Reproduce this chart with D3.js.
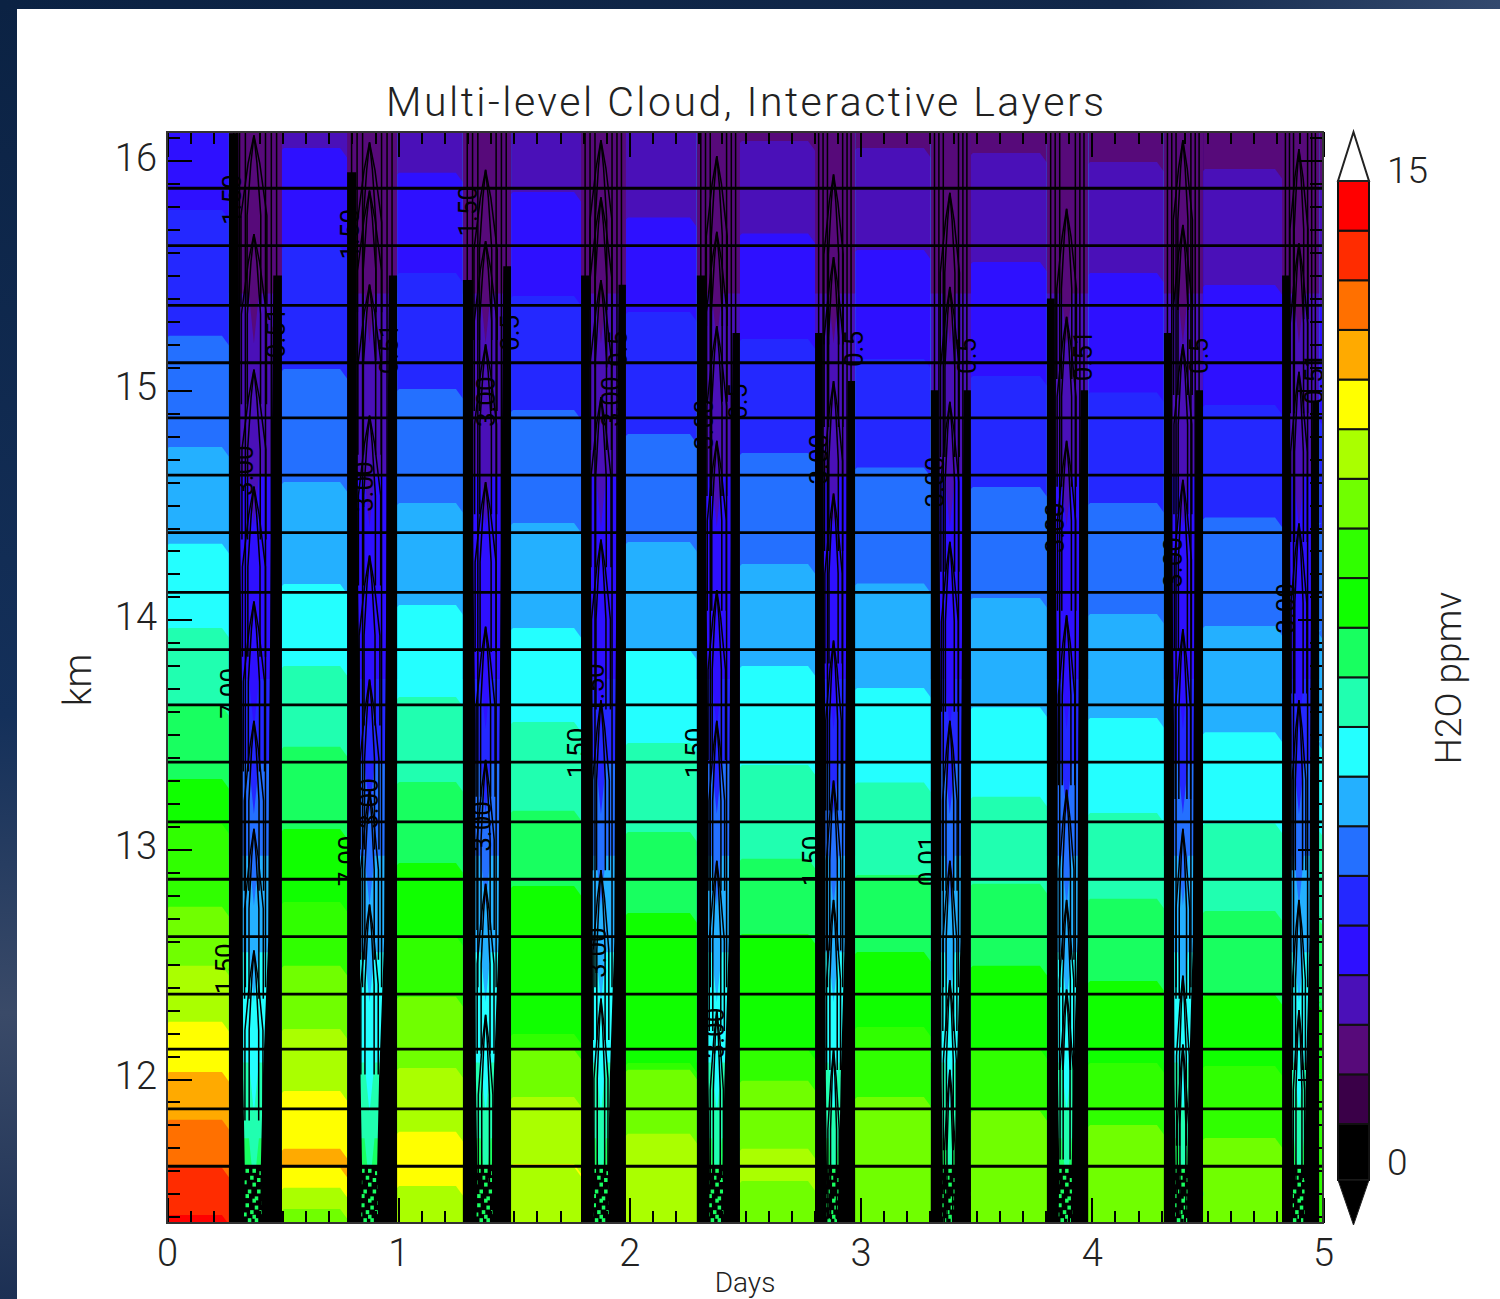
<!DOCTYPE html>
<html>
<head>
<meta charset="utf-8">
<title>Multi-level Cloud, Interactive Layers</title>
<script src="https://cdn.jsdelivr.net/npm/d3@7"></script>
<style>
html, body { margin: 0; padding: 0; background: #fff; overflow: hidden; }
svg { display: block; }
text { font-family: "Roboto", "Liberation Sans", sans-serif; font-weight: 300; fill: #222; }
.axis path { display: none; }
.axis line { stroke: #000; stroke-width: 2; shape-rendering: crispEdges; }
.axis text { font-size: 38px; }
</style>
</head>
<body>
<div id="chart"></div>
<script>
// Data
// =========================
var titleText = "Multi-level Cloud, Interactive Layers";
var dayTicks = [0, 1, 2, 3, 4, 5];
var kmTicks = [12, 13, 14, 15, 16];

// colour levels, bottom of the colour bar first
var levelColors = ["#000000", "#3a0048", "#570a7a", "#4a10b8", "#2e10ff", "#2428ff", "#2470ff",
    "#24b0ff", "#24ffff", "#20ffb0", "#18ff60", "#10ff00", "#30ff00", "#70ff00", "#aaff00",
    "#ffff00", "#ffaa00", "#ff7000", "#ff2c00", "#ff0000"];

// clear air between the cloud columns: level of each band top to bottom, and the km where it ends
var gapLevels = [
    [4, 5, 6, 7, 8, 9, 10, 11, 12, 13, 14, 15, 16, 17, 18, 19],
    [3, 4, 5, 6, 7, 8, 9, 10, 11, 12, 13, 14, 15, 16, 15, 14, 13],
    [3, 4, 5, 6, 7, 8, 9, 10, 11, 12, 13, 14, 15, 14],
    [3, 4, 5, 6, 7, 8, 9, 10, 11, 12, 13, 14, 15, 14],
    [3, 4, 5, 6, 7, 8, 9, 10, 11, 12, 13, 14],
    [2, 3, 4, 5, 6, 7, 8, 9, 10, 11, 12, 13, 14, 13],
    [2, 3, 4, 5, 6, 7, 8, 9, 10, 11, 12, 13],
    [2, 3, 4, 5, 6, 7, 8, 9, 10, 11, 12, 13],
    [2, 3, 4, 5, 6, 7, 8, 9, 10, 11, 12, 13],
    [2, 3, 4, 5, 6, 7, 8, 9, 10, 11, 12, 13],
    [2, 3, 4, 5, 6, 7, 8, 9, 10, 11, 12]
];
var gapBreaks = [
    [15.785, 15.237, 14.753, 14.331, 13.965, 13.625, 13.307, 13.111, 12.750, 12.493, 12.249, 12.031, 11.822, 11.613, 11.408],
    [16.055, 15.624, 15.093, 14.601, 14.156, 13.799, 13.447, 13.089, 12.771, 12.493, 12.218, 11.948, 11.696, 11.613, 11.526, 11.434],
    [15.947, 15.511, 15.006, 14.509, 14.065, 13.664, 13.294, 12.941, 12.623, 12.358, 12.048, 11.770, 11.534],
    [15.864, 15.411, 14.914, 14.422, 13.965, 13.555, 13.168, 12.841, 12.196, 12.127, 11.922, 11.630, 11.617],
    [15.753, 15.341, 14.810, 14.339, 13.869, 13.464, 13.076, 12.723, 12.070, 12.040, 11.761],
    [16.086, 15.683, 15.223, 14.727, 14.243, 13.799, 13.368, 12.959, 12.632, 12.127, 11.992, 11.696, 11.556],
    [16.055, 15.611, 15.136, 14.664, 14.158, 13.703, 13.292, 12.889, 12.553, 12.227, 11.922],
    [16.033, 15.559, 15.062, 14.579, 14.095, 13.619, 13.229, 12.850, 12.493, 12.131, 11.861],
    [15.994, 15.511, 14.990, 14.509, 14.026, 13.573, 13.159, 12.785, 12.427, 12.070, 11.800],
    [15.964, 15.459, 14.936, 14.446, 13.973, 13.510, 13.113, 12.732, 12.366, 12.057, 11.743],
    [15.916, 15.402, 14.888, 14.422, 13.956, 13.473, 13.098, 12.710, 12.336, 12.022]
];

// cloud columns, in days
var colLeft = [0.268, 0.779, 1.280, 1.791, 2.292, 2.803, 3.304, 3.806, 4.312, 4.823];
var colRight = [0.497, 0.995, 1.488, 1.985, 2.478, 2.976, 3.477, 3.984, 4.481, 4.983];
var colCenter = [0.376, 0.876, 1.378, 1.877, 2.378, 2.883, 3.386, 3.891, 4.394, 4.896];
// thick walls only start below these heights (km)
var leftWallTop = [16.12, 15.95, 15.48, 15.50, 15.50, 15.25, 15.00, 15.40, 15.25, 15.50];
var rightWallTop = [15.50, 15.50, 15.54, 15.46, 15.25, 15.04, 15.00, 15.00, 15.00, 14.95];

// wall thickness as a share of the column width
var wallKm = [16.13, 14.5, 13.5, 12.6, 12.0, 11.6, 11.36];
var wallLeftShare = [0.18, 0.20, 0.26, 0.26, 0.27, 0.30, 0.28];
var wallRightShare = [0.14, 0.20, 0.24, 0.26, 0.36, 0.40, 0.38];

// column core colours, top to bottom
var coreLevels = [2, 3, 4, 5, 6, 7, 8, 9, 10];
var coreBreaks = [15.30, 14.50, 13.62, 13.25, 12.85, 12.43, 11.95, 11.62];

// tops of the pointed contours inside each column (km)
var spireTips = [
    [16.11, 15.68, 15.09, 14.58, 14.08, 13.56, 13.09, 12.56],
    [16.08, 15.87, 15.46, 14.89, 14.28, 13.74, 13.26, 12.76],
    [15.96, 15.65, 15.20, 14.60, 13.97, 13.39, 12.85, 12.28],
    [16.09, 15.84, 15.48, 14.97, 14.35, 13.65, 12.91, 12.35],
    [16.02, 15.69, 15.28, 14.78, 14.13, 13.56, 12.95, 12.30],
    [15.94, 15.58, 15.04, 14.55, 13.91, 13.30, 12.78, 12.13],
    [15.86, 15.45, 14.95, 14.34, 13.56, 12.95, 12.43, 12.04],
    [15.79, 15.32, 14.78, 14.02, 13.26, 12.78, 12.39],
    [16.09, 15.72, 15.20, 14.61, 13.96, 13.09, 12.45, 12.15],
    [16.05, 15.64, 15.08, 14.42, 13.65, 12.78, 12.30]
];

// green flecks at the foot of a column: offset from the centre in days, height in km
var speckDay = [-0.03, 0.00, 0.03, -0.01, 0.02, -0.04, 0.00, 0.04, -0.02, 0.02, -0.03, 0.01, 0.00, 0.04, -0.03, 0.01, -0.01, 0.03, -0.04, 0.00, 0.06, 0.08, -0.02, 0.01];
var speckKm = [11.60, 11.60, 11.59, 11.57, 11.56, 11.55, 11.54, 11.53, 11.51, 11.51, 11.49, 11.48, 11.47, 11.46, 11.45, 11.44, 11.42, 11.42, 11.41, 11.40, 11.45, 11.50, 11.385, 11.385];

// the layer lines
var layerKm = [15.88, 15.63, 15.37, 15.12, 14.88, 14.63, 14.38, 14.12, 13.87, 13.63, 13.38, 13.12, 12.87, 12.62, 12.37, 12.13, 11.87, 11.62];

// contour labels
var labelText = ["1.50", "1.50", "1.50", "7.00", "7.00", "1.50", "1.50", "1.50", "1.50", "1.50", "0.01",
    "0.51", "0.51", "0.5", "0.5", "0.5", "0.5", "0.5", "0.51", "0.5", "0.51",
    "3.00", "3.00", "3.00", "3.00", "3.00", "3.00", "3.00", "3.00", "3.00", "3.00", "3.00", "3.00", "3.00", "3.00"];
var labelDay = [0.28, 0.79, 1.30, 0.27, 0.78, 0.25, 1.77, 2.28, 2.79, 1.85, 3.29,
    0.47, 0.96, 1.48, 1.95, 2.47, 2.97, 3.46, 3.96, 4.46, 4.96,
    0.33, 0.85, 1.38, 1.92, 2.32, 2.82, 3.32, 3.84, 4.35, 4.84, 0.87, 1.36, 1.86, 2.37];
var labelKm = [15.83, 15.68, 15.78, 13.68, 12.95, 12.48, 13.42, 13.42, 12.95, 13.70, 12.95,
    15.25, 15.18, 15.25, 15.18, 14.95, 15.18, 15.15, 15.15, 15.15, 15.05,
    14.65, 14.58, 14.95, 14.95, 14.85, 14.70, 14.60, 14.40, 14.25, 14.05, 13.20, 13.10, 12.55, 12.20];

var barTicks = ["15", "0"];
var barTickY = [170, 1162];

// Size of things
// ==============
var width = 1500;
var height = 1299;
var plotLeft = 167;
var plotRight = 1323;
var plotTop = 132;
var plotBottom = 1223;

var x = d3.scaleLinear().domain([0, 5]).range([plotLeft, plotRight]);
var y = d3.scaleLinear().domain([16, 12]).range([160.7, 1079]);

var svg = d3.select("#chart").append("svg")
    .attr("width", width)
    .attr("height", height);

// Page background, the dark picture behind the white panel
// =======================================================
var defs = svg.append("defs");
var leftGrad = defs.append("linearGradient").attr("id", "leftGrad")
    .attr("x1", 0).attr("y1", 0).attr("x2", 0).attr("y2", 1);
leftGrad.append("stop").attr("offset", "0%").attr("stop-color", "#0b2243");
leftGrad.append("stop").attr("offset", "55%").attr("stop-color", "#14305a");
leftGrad.append("stop").attr("offset", "78%").attr("stop-color", "#3a4a68");
leftGrad.append("stop").attr("offset", "100%").attr("stop-color", "#1c3054");
var topGrad = defs.append("linearGradient").attr("id", "topGrad");
topGrad.append("stop").attr("offset", "0%").attr("stop-color", "#0b2243");
topGrad.append("stop").attr("offset", "75%").attr("stop-color", "#12284a");
topGrad.append("stop").attr("offset", "100%").attr("stop-color", "#33496e");

svg.append("rect").attr("width", 17).attr("height", height).attr("fill", "url(#leftGrad)");
svg.append("rect").attr("width", width).attr("height", 9).attr("fill", "url(#topGrad)");

defs.append("clipPath").attr("id", "plotClip").append("rect")
    .attr("x", plotLeft).attr("y", plotTop)
    .attr("width", plotRight - plotLeft).attr("height", plotBottom - plotTop);

var plot = svg.append("g").attr("clip-path", "url(#plotClip)");

// Bands of clear air
// ==================
gapLevels.forEach(function(levels, i) {
    var x0 = i == 0 ? x(0) : x(colRight[i - 1]);
    var x1 = i == colLeft.length ? x(5) : x(colLeft[i]);
    var breaks = gapBreaks[i];

    plot.append("rect")
        .attr("x", x0 - 1).attr("y", plotTop)
        .attr("width", x1 - x0 + 2).attr("height", plotBottom - plotTop)
        .attr("fill", levelColors[levels[0]]);

    // each lower band is painted over the one above, corners cut near the columns
    breaks.forEach(function(km, j) {
        var top = y(km);
        var pts = [[x0 - 1, top + 3], [x0 + 2, top], [x1 - 7, top], [x1 + 1, top + 11],
            [x1 + 1, plotBottom], [x0 - 1, plotBottom]];
        plot.append("polygon")
            .attr("points", pts.join(" "))
            .attr("fill", levelColors[levels[j + 1]]);
    });
});

// Cloud columns
// =============
var wallLeftAt = d3.scaleLinear().domain(wallKm).range(wallLeftShare);
var wallRightAt = d3.scaleLinear().domain(wallKm).range(wallRightShare);
var contourLine = d3.line();

colCenter.forEach(function(center, i) {
    var x0 = x(colLeft[i]);
    var x1 = x(colRight[i]);
    var mid = x(center);
    var w = x1 - x0;

    // core colours, from the bottom up so the upper colour points down the middle
    plot.append("rect")
        .attr("x", x0).attr("y", plotTop).attr("width", w).attr("height", plotBottom - plotTop)
        .attr("fill", levelColors[coreLevels[coreLevels.length - 1]]);
    for (var j = coreBreaks.length - 1; j >= 0; j--) {
        var edge = y(coreBreaks[j]);
        var pts = [[x0, plotTop], [x1, plotTop], [x1, edge - 28], [mid + 5, edge - 28], [mid, edge + 22],
            [mid - 5, edge - 28], [x0, edge - 28]];
        plot.append("polygon")
            .attr("points", pts.join(" "))
            .attr("fill", levelColors[coreLevels[j]]);
    }

    // foot of the column is almost all black
    plot.append("rect")
        .attr("x", x0).attr("y", y(11.62)).attr("width", w).attr("height", plotBottom - y(11.62))
        .attr("fill", "#000");

    speckDay.forEach(function(d, k) {
        plot.append("rect")
            .attr("x", x(center + d) - 1.5).attr("y", y(speckKm[k]) - 2)
            .attr("width", 3.5).attr("height", 4)
            .attr("fill", levelColors[10]);
    });

    // pointed contours
    spireTips[i].forEach(function(km) {
        var tip = y(km);
        var half = w * (1 - wallLeftAt(km) - wallRightAt(km)) / 2;
        [0.38, 0.72].forEach(function(share) {
            var h = half * share;
            var path = contourLine([[mid - h, tip + 170], [mid - h, tip + 80], [mid - h * 0.45, tip + 28], [mid, tip],
                [mid + h * 0.45, tip + 28], [mid + h, tip + 80], [mid + h, tip + 170]]);
            plot.append("path").attr("d", path)
                .attr("fill", "none").attr("stroke", "#000").attr("stroke-width", 1.5);
        });
    });

    // long lines running beside the walls
    [0.09, 0.2, 0.31, 0.69, 0.8, 0.9].forEach(function(share) {
        plot.append("line")
            .attr("x1", x0 + w * share).attr("x2", x0 + w * share)
            .attr("y1", plotTop).attr("y2", y(12.4))
            .attr("stroke", "#000").attr("stroke-width", 1.5);
    });

    // thick black walls, where the contours are packed together
    var leftPts = [leftWallTop[i]].concat(wallKm.filter(function(k) { return k < leftWallTop[i]; }));
    var rightPts = [rightWallTop[i]].concat(wallKm.filter(function(k) { return k < rightWallTop[i]; }));

    var leftArea = d3.area()
        .x0(x0)
        .x1(function(k) { return x0 + w * wallLeftAt(k); })
        .y(function(k) { return y(k); });
    var rightArea = d3.area()
        .x0(x1)
        .x1(function(k) { return x1 - w * wallRightAt(k); })
        .y(function(k) { return y(k); });

    plot.append("path").attr("d", leftArea(leftPts)).attr("fill", "#000");
    plot.append("path").attr("d", rightArea(rightPts)).attr("fill", "#000");
});

// Contour labels
// ==============
labelText.forEach(function(t, i) {
    var lx = x(labelDay[i]);
    var ly = y(labelKm[i]);
    plot.append("text")
        .attr("transform", "translate(" + lx + "," + ly + ")rotate(-90)")
        .attr("text-anchor", "middle")
        .attr("dy", "0.36em")
        .style("font-size", "26px")
        .style("font-weight", "400")
        .style("fill", "#000")
        .text(t);
});

// Layer lines
// ===========
plot.selectAll(".layer")
    .data(layerKm)
    .enter().append("line")
    .attr("class", "layer")
    .attr("x1", plotLeft).attr("x2", plotRight)
    .attr("y1", function(d) { return y(d); })
    .attr("y2", function(d) { return y(d); })
    .attr("stroke", "#000")
    .attr("stroke-width", 2.8);

// Axes
// ====
var dayMinor = d3.range(0, 51).map(function(d) { return d / 10; });
var kmMinor = d3.range(114, 162).map(function(d) { return d / 10; });

function addAxis(axis, tx, ty) {
    return svg.append("g").attr("class", "axis")
        .attr("transform", "translate(" + tx + "," + ty + ")")
        .call(axis);
}

addAxis(d3.axisBottom(x).tickValues(dayMinor).tickSize(-12).tickFormat(""), 0, plotBottom);
addAxis(d3.axisTop(x).tickValues(dayMinor).tickSize(-12).tickFormat(""), 0, plotTop);
addAxis(d3.axisLeft(y).tickValues(kmMinor).tickSize(-13).tickFormat(""), plotLeft, 0);
addAxis(d3.axisRight(y).tickValues(kmMinor).tickSize(-13).tickFormat(""), plotRight, 0);

addAxis(d3.axisBottom(x).tickValues(dayTicks).tickSize(-25).tickPadding(16).tickFormat(d3.format("d")), 0, plotBottom);
addAxis(d3.axisTop(x).tickValues(dayTicks).tickSize(-25).tickFormat(""), 0, plotTop);
addAxis(d3.axisLeft(y).tickValues(kmTicks).tickSize(-25).tickPadding(10).tickFormat(d3.format("d")), plotLeft, 0)
    .selectAll("text").attr("dy", "0.25em");
addAxis(d3.axisRight(y).tickValues(kmTicks).tickSize(-25).tickFormat(""), plotRight, 0);

svg.append("rect")
    .attr("x", plotLeft).attr("y", plotTop)
    .attr("width", plotRight - plotLeft).attr("height", plotBottom - plotTop)
    .attr("fill", "none")
    .attr("stroke", "#333")
    .attr("stroke-width", 2);

// Titles
// ======
svg.append("text")
    .attr("x", 386).attr("y", 116)
    .attr("textLength", 718)
    .attr("lengthAdjust", "spacing")
    .style("font-size", "41px")
    .text(titleText);

// runs to the edge of the page in the source, kept just inside it here
svg.append("text")
    .attr("x", 745).attr("y", 1292)
    .attr("text-anchor", "middle")
    .style("font-size", "28px")
    .text("Days");

svg.append("text")
    .attr("transform", "translate(91,680)rotate(-90)")
    .attr("text-anchor", "middle")
    .style("font-size", "38px")
    .text("km");

svg.append("text")
    .attr("transform", "translate(1461,678)rotate(-90)")
    .attr("text-anchor", "middle")
    .style("font-size", "37px")
    .text("H2O ppmv");

// Colour bar
// ==========
var barLeft = 1338;
var barRight = 1369;
var barMid = (barLeft + barRight) / 2;
var levelY = d3.scaleLinear().domain([1, levelColors.length]).range([1124, 181]);

levelColors.forEach(function(color, i) {
    var top = levelY(i + 1);
    var bottom = i == 0 ? 1180 : levelY(i);
    svg.append("rect")
        .attr("x", barLeft).attr("y", top)
        .attr("width", barRight - barLeft).attr("height", bottom - top)
        .attr("fill", color)
        .attr("stroke", "#111")
        .attr("stroke-width", 2);
});

svg.append("polygon")
    .attr("points", [[barLeft, 181], [barMid, 132], [barRight, 181]].join(" "))
    .attr("fill", "#fff")
    .attr("stroke", "#222")
    .attr("stroke-width", 2);
svg.append("polygon")
    .attr("points", [[barLeft, 1180], [barMid, 1225], [barRight, 1180]].join(" "))
    .attr("fill", "#000")
    .attr("stroke", "#222")
    .attr("stroke-width", 1);

barTicks.forEach(function(t, i) {
    svg.append("text")
        .attr("x", 1387).attr("y", barTickY[i])
        .attr("dy", "0.36em")
        .style("font-size", "37px")
        .text(t);
});
</script>
</body>
</html>
